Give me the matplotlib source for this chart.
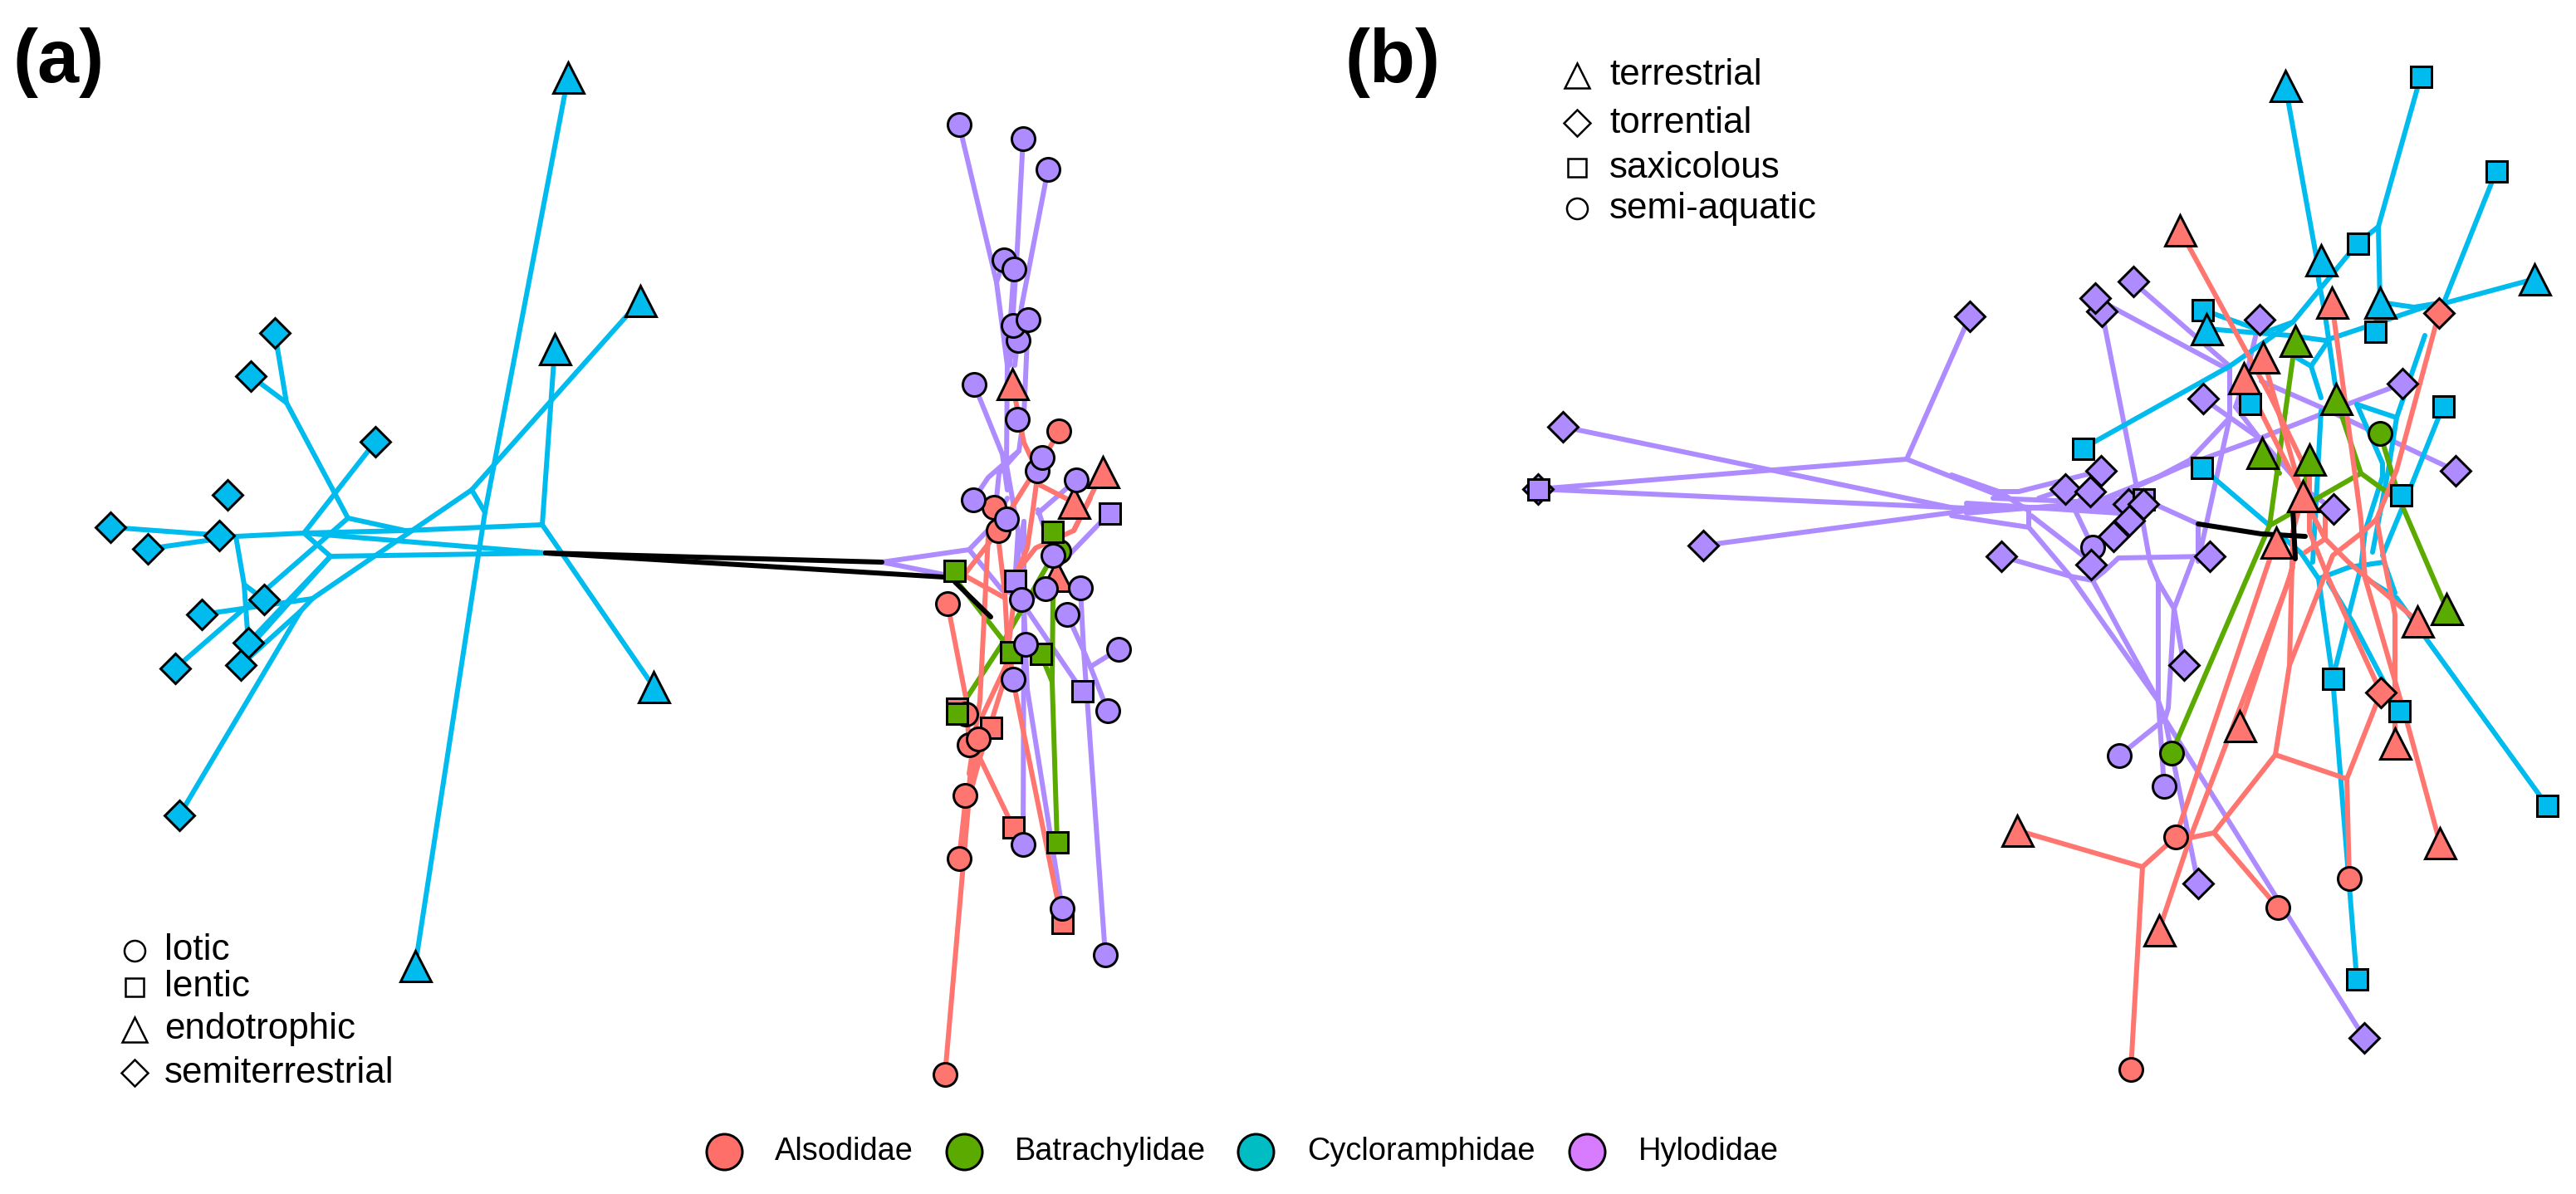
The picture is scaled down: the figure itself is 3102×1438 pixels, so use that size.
import matplotlib
matplotlib.use("Agg")
import matplotlib.pyplot as plt

plt.rcParams['font.family'] = ['Liberation Sans', 'DejaVu Sans']

# colours
family_colors = {"als": "#FF7670", "bat": "#5BAA00", "cyc": "#00BBEE", "hyl": "#AE8CFF"}
legend_colors = ["#FF6F69", "#5AAA00", "#00BDC4", "#D77CFF"]
legend_names = ["Alsodidae", "Batrachylidae", "Cycloramphidae", "Hylodidae"]
legend_x = [872, 1161, 1512, 1911]
legend_text_x = [933, 1222, 1574, 1973]

# shape legends
a_guild_names = ["lotic", "lentic", "endotrophic", "semiterrestrial"]
a_guild_shapes = ["o", "s", "^", "D"]
a_guild_y = [1145, 1189, 1240, 1292]
b_guild_names = ["terrestrial", "torrential", "saxicolous", "semi-aquatic"]
b_guild_shapes = ["^", "D", "s", "o"]
b_guild_y = [91, 148, 202, 251]

# PANEL A: species scores (axes are unitless)
a_tip_x = [1138, 1155, 1279, 1220, 1193, 1152, 1163, 1167, 1178, 1162, 1141, 1197, 1202,
           1275, 1219, 1328, 1293, 1272,
           1275, 1267, 1149, 1217, 1253, 1152, 1273,
           331, 302, 452, 274, 133, 178, 264, 318, 243, 290, 299, 211, 216,
           668, 771, 684, 787, 500,
           1155, 1232, 1262, 1209, 1221, 1226, 1220, 1238, 1173, 1225, 1249, 1255, 1296, 1172,
           1212, 1336, 1268, 1222, 1259, 1301, 1230, 1285, 1235, 1347, 1220, 1303, 1334, 1232,
           1279, 1331]
a_tip_y = [1294, 1034, 1111, 996, 876, 853, 860, 897, 890, 958, 727, 611, 639,
           519, 462, 568, 605, 693,
           664, 640, 687, 785, 787, 859, 1014,
           401, 453, 532, 596, 635, 661, 645, 722, 740, 801, 774, 805, 982,
           420, 362, 93, 827, 1163,
           150, 167, 204, 313, 324, 410, 392, 385, 463, 505, 567, 551, 578, 602,
           625, 618, 669, 699, 709, 708, 722, 740, 776, 782, 818, 832, 856, 1017,
           1094, 1150]
a_tip_family = ["als"] * 18 + ["bat"] * 7 + ["cyc"] * 18 + ["hyl"] * 30
a_tip_shape = ["o", "o", "s", "s", "s", "s", "o", "o", "o", "o", "o", "o", "o",
               "o", "^", "^", "^", "^",
               "o", "s", "s", "s", "s", "s", "s",
               "D", "D", "D", "D", "D", "D", "D", "D", "D", "D", "D", "D", "D",
               "^", "^", "^", "^", "^",
               "o", "o", "o", "o", "o", "o", "o", "o", "o", "o", "o", "o", "o", "o",
               "o", "s", "o", "s", "o", "o", "o", "o", "o", "o", "o", "s", "o", "o",
               "o", "o"]

# PANEL A: tree branches, one polyline each
a_cyc_branches = [
    [(657, 666), (398, 670)], [(657, 666), (366, 642)], [(398, 670), (366, 642)],
    [(366, 642), (284, 646), (133, 635)], [(284, 646), (178, 661)], [(366, 642), (452, 532)],
    [(366, 642), (488, 639), (653, 632)], [(488, 639), (419, 624)],
    [(419, 624), (345, 485), (331, 401)], [(345, 485), (302, 453)],
    [(419, 624), (318, 712), (211, 805)],
    [(653, 632), (668, 420)], [(653, 632), (787, 827)],
    [(568, 590), (376, 721), (362, 736), (216, 982)], [(568, 590), (771, 362)],
    [(568, 590), (584, 617)], [(584, 617), (684, 93)], [(584, 617), (500, 1163)],
    [(376, 721), (243, 740)], [(362, 736), (290, 801)], [(398, 670), (299, 774)],
    [(398, 670), (305, 774)], [(284, 646), (294, 704), (299, 774)],
    [(294, 704), (318, 722)],
]
a_hyl_branches = [
    [(1062, 677), (1167, 662), (1193, 635), (1213, 600)], [(1062, 677), (1137, 692)],
    [(1167, 662), (1207, 711), (1225, 716)], [(1155, 150), (1200, 340), (1213, 440)],
    [(1200, 340), (1209, 313)], [(1232, 167), (1225, 300), (1216, 440)],
    [(1262, 204), (1230, 370), (1222, 440)], [(1221, 324), (1213, 440)],
    [(1220, 392), (1213, 440)], [(1226, 410), (1213, 440)],
    [(1238, 385), (1233, 500), (1227, 543), (1190, 575), (1172, 602)],
    [(1213, 440), (1212, 560), (1226, 640), (1223, 688)], [(1173, 463), (1207, 547), (1213, 590)],
    [(1227, 543), (1203, 570), (1200, 600)], [(1233, 628), (1223, 688)],
    [(1250, 614), (1262, 650)], [(1250, 618), (1296, 578)],
    [(1336, 618), (1280, 676), (1237, 729)], [(1233, 628), (1233, 734), (1232, 1017)],
    [(1237, 830), (1279, 1094)], [(1233, 729), (1303, 832)], [(1233, 729), (1237, 830)],
    [(1301, 708), (1305, 784), (1331, 1150)], [(1305, 784), (1313, 803), (1347, 782)],
    [(1313, 803), (1334, 856)], [(1285, 740), (1305, 784)], [(1223, 688), (1237, 729)],
]
a_bat_branches = [
    [(1150, 697), (1207, 770)], [(1152, 859), (1207, 775), (1260, 683), (1275, 664)],
    [(1253, 787), (1267, 821), (1273, 1014)], [(1268, 720), (1267, 821)],
    [(1267, 640), (1268, 660)],
]
a_als_branches = [
    [(1138, 1294), (1167, 960), (1180, 913), (1210, 817), (1225, 688), (1247, 660),
     (1293, 639), (1328, 568)],
    [(1293, 639), (1313, 600)], [(1190, 646), (1180, 844), (1167, 932)],
    [(1163, 690), (1197, 646), (1240, 577), (1249, 567), (1275, 519)],
    [(1250, 583), (1293, 605)], [(1249, 575), (1243, 620), (1237, 660), (1225, 688)],
    [(1219, 462), (1233, 533), (1249, 567)], [(1203, 655), (1210, 715), (1213, 770),
                                              (1223, 835), (1279, 1111)],
    [(1163, 694), (1210, 720)], [(1180, 913), (1220, 996)], [(1183, 862), (1213, 798)],
    [(1141, 727), (1163, 840), (1167, 897)], [(1175, 890), (1167, 958)],
    [(1163, 960), (1155, 1034)], [(1172, 900), (1165, 965)], [(1178, 900), (1168, 965)],
]
a_root_branches = [
    [(657, 666), (1062, 677)], [(657, 666), (1137, 695)], [(1150, 701), (1193, 743)],
]

# PANEL B: species scores
b_tip_x = [2752, 2915, 3006, 2839, 2795, 2866, 3052, 2652, 2657, 2860, 2709, 2942, 2508, 2651,
           2891, 2809, 2889, 3067, 2838,
           2372, 1882, 1852, 1852, 2051, 2531, 2523, 2569, 2721, 2653, 2893, 2957, 2530, 2487,
           2517, 2563, 2581, 2581, 2564, 2520, 2545, 2810, 2410, 2661, 2518, 2630, 2552, 2606,
           2647, 2847,
           2866, 2615, 2764, 2813, 2724, 2781, 2946,
           2625, 2808, 2725, 2702, 2773, 2741, 2911, 2697, 2884, 2938, 2429, 2600,
           2937, 2867, 2620, 2829, 2743, 2566]
b_tip_y = [103, 92, 206, 293, 313, 364, 336, 373, 396, 399, 486, 489, 540, 563,
           596, 817, 856, 970, 1179,
           381, 514, 589, 589, 657, 375, 359, 339, 385, 480, 462, 567, 567, 589,
           592, 607, 601, 607, 627, 659, 646, 613, 670, 670, 680, 801, 910, 947,
           1064, 1250,
           522, 907, 410, 480, 545, 553, 733,
           277, 364, 430, 455, 597, 653, 748, 874, 895, 1015, 1000, 1120,
           377, 834, 1008, 1058, 1093, 1288]
b_tip_family = ["cyc"] * 19 + ["hyl"] * 30 + ["bat"] * 7 + ["als"] * 18
b_tip_shape = ["^", "s", "s", "s", "^", "^", "^", "s", "^", "s", "s", "s", "s", "s",
               "s", "s", "s", "s", "s",
               "D", "D", "D", "s", "D", "D", "D", "D", "D", "D", "D", "D", "D", "D",
               "D", "D", "s", "D", "D", "o", "D", "D", "D", "D", "D", "D", "o", "o",
               "D", "D",
               "o", "o", "^", "^", "^", "^", "^",
               "^", "^", "^", "^", "^", "^", "^", "^", "^", "^", "^", "^",
               "D", "D", "o", "o", "o", "o"]

# PANEL B: tree branches
b_hyl_branches = [
    [(1882, 514), (2368, 615)], [(1852, 589), (2296, 553), (2372, 381)],
    [(2296, 553), (2413, 599)], [(1852, 589), (2368, 612)], [(2051, 657), (2368, 615)],
    [(2368, 612), (2551, 610)], [(2368, 606), (2551, 618)], [(2368, 618), (2551, 603)],
    [(2368, 609), (2551, 614)], [(2368, 615), (2551, 607)], [(2400, 600), (2551, 606)],
    [(2350, 572), (2407, 592), (2431, 592), (2530, 567)], [(2407, 592), (2443, 615)],
    [(2350, 621), (2443, 635), (2493, 694)], [(2446, 621), (2508, 669)],
    [(2443, 635), (2443, 615)], [(2487, 589), (2455, 600)], [(2517, 592), (2500, 606)],
    [(2532, 601), (2599, 574), (2637, 554), (2685, 503)],
    [(2581, 601), (2647, 631)], [(2647, 631), (2647, 676), (2685, 503), (2685, 441)],
    [(2569, 340), (2685, 441)], [(2523, 359), (2685, 446)],
    [(2721, 385), (2704, 455), (2692, 490)], [(2723, 459), (2805, 495), (2957, 567)],
    [(2653, 480), (2721, 528)], [(2721, 528), (2805, 495), (2893, 462)],
    [(2721, 528), (2627, 562), (2541, 600)], [(2692, 490), (2721, 528), (2776, 590), (2810, 613)],
    [(2531, 375), (2572, 582), (2589, 677), (2599, 701), (2599, 844), (2606, 947)],
    [(2498, 613), (2520, 659)], [(2410, 670), (2493, 694), (2520, 699), (2534, 688), (2551, 672),
                                 (2661, 670)],
    [(2493, 694), (2599, 844)], [(2520, 699), (2556, 766), (2599, 844)],
    [(2599, 701), (2618, 733), (2642, 670)], [(2618, 733), (2630, 801)],
    [(2618, 733), (2611, 853), (2607, 866)], [(2599, 844), (2607, 866)],
    [(2607, 866), (2552, 910)], [(2607, 866), (2647, 1064)], [(2607, 866), (2847, 1250)],
]
b_cyc_branches = [
    [(2752, 103), (2790, 313), (2792, 337)], [(2915, 92), (2864, 273), (2839, 293)],
    [(2864, 273), (2866, 364)], [(2839, 293), (2761, 388), (2685, 441), (2508, 540)],
    [(2652, 373), (2728, 400), (2761, 388)],
    [(2657, 396), (2757, 404), (2800, 410), (2848, 394), (2919, 370), (2948, 364), (3052, 336)],
    [(2866, 364), (2907, 370), (2943, 364)], [(2943, 364), (3006, 206)],
    [(2920, 404), (2886, 503), (2876, 566), (2857, 665)],
    [(2942, 489), (2900, 594), (2869, 669)], [(2761, 428), (2783, 441), (2804, 410)],
    [(2783, 441), (2795, 479)], [(2838, 487), (2886, 503)],
    [(2838, 487), (2869, 558), (2869, 574), (2848, 640), (2843, 683)],
    [(2792, 337), (2800, 380), (2812, 463)], [(2795, 495), (2785, 677)],
    [(2651, 563), (2733, 633)], [(2741, 640), (2771, 666), (2792, 697), (2809, 817), (2838, 1179)],
    [(2792, 697), (2829, 683), (2871, 677)], [(2871, 677), (2884, 714)],
    [(2843, 683), (2809, 817)], [(2804, 701), (2833, 749), (2889, 856)],
    [(2848, 696), (2886, 720), (3067, 970)], [(2860, 399), (2862, 380)],
]
b_bat_branches = [
    [(2764, 410), (2733, 633), (2615, 907)], [(2733, 633), (2843, 570), (2813, 480)],
    [(2843, 570), (2891, 605), (2946, 733)], [(2866, 522), (2891, 605)],
    [(2724, 545), (2745, 570)], [(2781, 553), (2773, 597)],
]
b_als_branches = [
    [(2625, 277), (2733, 475), (2781, 574), (2781, 640), (2804, 697), (2867, 834)],
    [(2725, 430), (2766, 574), (2773, 597)], [(2702, 455), (2773, 597)],
    [(2808, 364), (2843, 625), (2848, 696), (2900, 875), (2938, 1015)],
    [(2937, 377), (2886, 566), (2862, 625), (2845, 641), (2809, 669), (2757, 801), (2740, 909)],
    [(2862, 625), (2870, 670), (2884, 740), (2884, 895)],
    [(2740, 909), (2826, 938), (2867, 834)], [(2826, 938), (2829, 1058)],
    [(2740, 909), (2666, 1003), (2637, 1009), (2620, 1008), (2580, 1044)],
    [(2666, 1003), (2743, 1093)], [(2580, 1044), (2429, 1000)], [(2580, 1044), (2566, 1288)],
    [(2620, 1008), (2737, 662)], [(2600, 1120), (2637, 1010), (2757, 697), (2764, 666)],
    [(2697, 874), (2761, 683)], [(2757, 801), (2761, 640), (2773, 597)],
    [(2800, 613), (2800, 649), (2776, 665)], [(2800, 649), (2828, 677), (2911, 748)],
    [(2773, 597), (2800, 649)],
]
b_root_branches = [
    [(2647, 631), (2723, 643), (2776, 646)], [(2761, 613), (2764, 673)],
]

fig = plt.figure(figsize=(31.02, 14.38), dpi=100)
ax = fig.add_axes([0, 0, 1, 1])
ax.set_xlim(0, 3102)
ax.set_ylim(1438, 0)
ax.axis("off")


def px(n):
    # sizes below are in reference pixels, matplotlib wants points
    return n * 72 / 100


marker_sizes = {"o": px(28), "s": px(25), "^": px(37), "D": px(25)}
guild_sizes = {"o": px(25), "s": px(22), "^": px(30), "D": px(22)}


def draw_branches(branches, color, width=6):
    for branch in branches:
        xs = [p[0] for p in branch]
        ys = [p[1] for p in branch]
        ax.plot(xs, ys, color=color, lw=px(width), solid_capstyle="round",
                solid_joinstyle="round", zorder=2)


def draw_tips(xs, ys, families, shapes):
    for x, y, family, shape in zip(xs, ys, families, shapes):
        ax.plot([x], [y], marker=shape, ms=marker_sizes[shape], mfc=family_colors[family],
                mec="black", mew=px(3), ls="none", zorder=3)


# panel a
draw_branches(a_hyl_branches, family_colors["hyl"])
draw_branches(a_cyc_branches, family_colors["cyc"])
draw_branches(a_bat_branches, family_colors["bat"])
draw_branches(a_als_branches, family_colors["als"])
draw_branches(a_root_branches, "black")
draw_tips(a_tip_x, a_tip_y, a_tip_family, a_tip_shape)

# panel b
draw_branches(b_hyl_branches, family_colors["hyl"])
draw_branches(b_cyc_branches, family_colors["cyc"])
draw_branches(b_bat_branches, family_colors["bat"])
draw_branches(b_als_branches, family_colors["als"])
draw_branches(b_root_branches, "black")
draw_tips(b_tip_x, b_tip_y, b_tip_family, b_tip_shape)

# panel letters
ax.text(16, 75, "(a)", fontsize=px(90), fontweight="bold", va="center", ha="left")
ax.text(1620, 75, "(b)", fontsize=px(90), fontweight="bold", va="center", ha="left")

# shape legends
for name, shape, y in zip(a_guild_names, a_guild_shapes, a_guild_y):
    ax.plot([162], [y], marker=shape, ms=guild_sizes[shape], mfc="white", mec="black", mew=px(2.5), ls="none")
    ax.text(198, y, name, fontsize=px(44), va="center", ha="left")
for name, shape, y in zip(b_guild_names, b_guild_shapes, b_guild_y):
    ax.plot([1899], [y], marker=shape, ms=guild_sizes[shape], mfc="white", mec="black", mew=px(2.5), ls="none")
    ax.text(1938, y, name, fontsize=px(44), va="center", ha="left")

# family legend
for name, color, x, tx in zip(legend_names, legend_colors, legend_x, legend_text_x):
    ax.plot([x], [1387], marker="o", ms=px(43), mfc=color, mec="black", mew=px(3), ls="none")
    ax.text(tx, 1387, name, fontsize=px(38), va="center", ha="left")

fig.savefig("out.png", dpi=100, facecolor="white")
